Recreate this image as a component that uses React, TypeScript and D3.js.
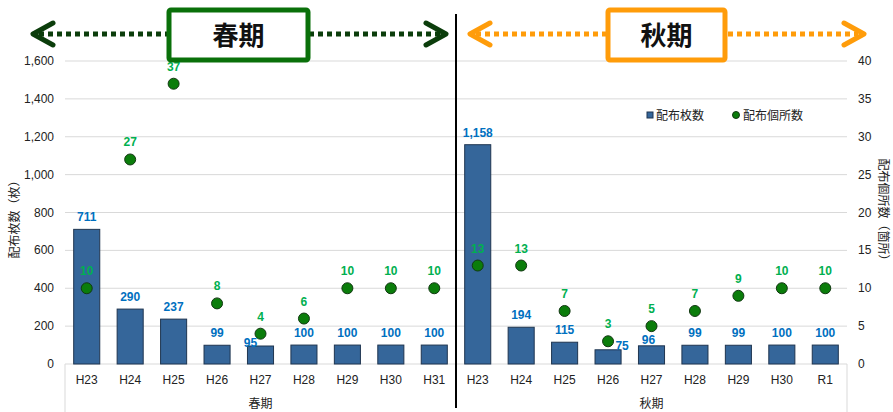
import React from "react";
import * as d3 from "d3";

const categories = ["H23","H24","H25","H26","H27","H28","H29","H30","H31","H23","H24","H25","H26","H27","H28","H29","H30","R1"];
const groups = ["春期", "秋期"];
const sheets = [711,290,237,99,95,100,100,100,100,1158,194,115,75,96,99,99,100,100];
const places = [10,27,37,8,4,6,10,10,10,13,13,7,3,5,7,9,10,10];
const leftTicks = [0,200,400,600,800,1000,1200,1400,1600];
const rightTicks = [0,5,10,15,20,25,30,35,40];
// label nudges (dx, dy) for overlapping labels
const barNudge: Record<number, [number, number]> = { 4: [-10, 9], 12: [14, 8], 13: [-3, 6] };

const W = 893, H = 412;
const L = 65, R = 847, T = 61, B = 364;
const FONT = "'Liberation Sans', Arial, 'Noto Sans CJK JP', sans-serif";
const JFONT = "'Noto Sans CJK JP', 'Liberation Sans', sans-serif";

function Arrow({ x1, x2, y, color }: { x1: number; x2: number; y: number; color: string }) {
  return (
    <g>
      <line x1={x1 + 6} x2={x2 - 6} y1={y} y2={y} stroke={color} strokeWidth={5} strokeDasharray="5 4" />
      <polyline points={`${x1 + 20},${y - 11} ${x1},${y} ${x1 + 20},${y + 11}`} fill="none" stroke={color} strokeWidth={5} strokeLinecap="round" strokeLinejoin="round" />
      <polyline points={`${x2 - 20},${y - 11} ${x2},${y} ${x2 - 20},${y + 11}`} fill="none" stroke={color} strokeWidth={5} strokeLinecap="round" strokeLinejoin="round" />
    </g>
  );
}

export default function App() {
  const x = d3.scaleBand<number>().domain(d3.range(categories.length)).range([L, R]).paddingInner(0.4).paddingOuter(0.2);
  const yL = d3.scaleLinear().domain([0, 1600]).range([B, T]);
  const yR = d3.scaleLinear().domain([0, 40]).range([B, T]);
  const bw = x.bandwidth();
  const divX = x(9)! - (x.step() - bw) / 2;
  const fmt = d3.format(",");

  return (
    <svg width={W} height={H} style={{ position: "absolute", left: 0, top: 0, background: "#fff" }} fontFamily={FONT}>
      {leftTicks.map((t) => (
        <line key={"g" + t} x1={L} x2={R} y1={yL(t)} y2={yL(t)} stroke="#d9d9d9" strokeWidth={1} />
      ))}
      <line x1={L} x2={L} y1={B} y2={H} stroke="#d9d9d9" />
      <line x1={R} x2={R} y1={B} y2={H} stroke="#d9d9d9" />
      {leftTicks.map((t) => (
        <text key={"l" + t} x={54} y={yL(t) + 4} textAnchor="end" fontSize={12} fill="#222">{fmt(t)}</text>
      ))}
      {rightTicks.map((t) => (
        <text key={"r" + t} x={858} y={yR(t) + 4} textAnchor="start" fontSize={12} fill="#222">{t}</text>
      ))}
      <text transform={`translate(19,${(T + B) / 2 + 4}) rotate(-90)`} textAnchor="middle" fontSize={12} fontFamily={JFONT} fill="#222">配布枚数（枚）</text>
      <text transform={`translate(879,${(T + B) / 2}) rotate(90)`} textAnchor="middle" fontSize={12} fontFamily={JFONT} fill="#222">配布個所数（箇所）</text>
      {sheets.map((v, i) => (
        <rect key={"b" + i} x={x(i)!} y={yL(v)} width={bw} height={B - yL(v)} fill="#35669a" stroke="#1f3550" strokeWidth={1} />
      ))}
      {categories.map((c, i) => (
        <text key={"c" + i} x={x(i)! + bw / 2} y={384} textAnchor="middle" fontSize={12} fill="#222">{c}</text>
      ))}
      <text x={(L + divX) / 2} y={408} textAnchor="middle" fontSize={12} fontFamily={JFONT} fill="#222">{groups[0]}</text>
      <text x={(divX + R) / 2} y={408} textAnchor="middle" fontSize={12} fontFamily={JFONT} fill="#222">{groups[1]}</text>
      {places.map((v, i) => (
        <circle key={"d" + i} cx={x(i)! + bw / 2} cy={yR(v)} r={5.5} fill="#0b7d0b" stroke="#123812" strokeWidth={1} />
      ))}
      {sheets.map((v, i) => {
        const n = barNudge[i] || [0, 0];
        return (
          <text key={"bl" + i} x={x(i)! + bw / 2 + n[0]} y={yL(v) - 8 + n[1]} textAnchor="middle" fontSize={12} fontWeight="bold" fill="#0070c0">{fmt(v)}</text>
        );
      })}
      {places.map((v, i) => (
        <text key={"dl" + i} x={x(i)! + bw / 2} y={yR(v) - 13} textAnchor="middle" fontSize={12} fontWeight="bold" fill="#00b050">{v}</text>
      ))}
      <rect x={647} y={112} width={6} height={6} fill="#35669a" stroke="#1f3550" />
      <text x={656} y={120} fontSize={12} fontFamily={JFONT} fill="#222">配布枚数</text>
      <circle cx={736} cy={115} r={3.5} fill="#0b7d0b" stroke="#123812" />
      <text x={743} y={120} fontSize={12} fontFamily={JFONT} fill="#222">配布個所数</text>
      <line x1={divX} x2={divX} y1={14} y2={408} stroke="#000" strokeWidth={2} />
      <Arrow x1={33} x2={446} y={34} color="#0b3d0b" />
      <rect x={169} y={10} width={139} height={50} rx={2} fill="#fff" stroke="#0a700a" strokeWidth={5} />
      <text x={238.5} y={45} textAnchor="middle" fontSize={26} fontWeight="bold" fontFamily={JFONT} fill="#111">春期</text>
      <Arrow x1={470} x2={864} y={34} color="#ff9c0a" />
      <rect x={608} y={10} width={117} height={50} rx={2} fill="#fff" stroke="#ff9c0a" strokeWidth={5} />
      <text x={666.5} y={45} textAnchor="middle" fontSize={26} fontWeight="bold" fontFamily={JFONT} fill="#111">秋期</text>
    </svg>
  );
}
